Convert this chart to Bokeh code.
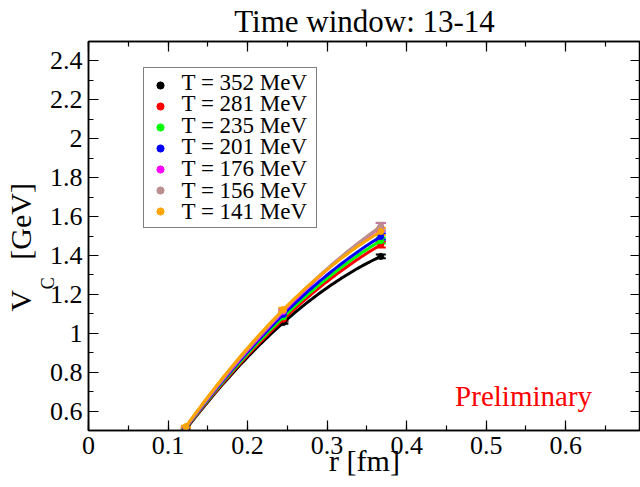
import numpy as np
from bokeh.plotting import figure
from bokeh.models import (Range1d, LinearAxis, Legend, LegendItem, Label, Whisker, FixedTicker,
                          ColumnDataSource, SingleIntervalTicker, CustomJSTickFormatter, TeeHead)
from bokeh.embed import file_html
from bokeh.resources import INLINE

# ---- data ----
r_fm = [0.1225, 0.245, 0.3675]
temps = ["352", "281", "235", "201", "176", "156", "141"]
colors = ["#000000", "#ff0000", "#00ff00", "#0000ff", "#ff00ff", "#bc8f8f", "#ffa500"]
v_352 = [0.506, 1.055, 1.395]
v_281 = [0.510, 1.072, 1.455]
v_235 = [0.512, 1.084, 1.476]
v_201 = [0.514, 1.097, 1.497]
v_176 = [0.517, 1.112, 1.547]
v_156 = [0.518, 1.117, 1.549]
v_141 = [0.520, 1.122, 1.523]
e_352 = [0.003, 0.006, 0.010]
e_281 = [0.003, 0.007, 0.014]
e_235 = [0.003, 0.007, 0.015]
e_201 = [0.003, 0.008, 0.016]
e_176 = [0.004, 0.009, 0.020]
e_156 = [0.004, 0.009, 0.019]
e_141 = [0.004, 0.009, 0.018]
values = [v_352, v_281, v_235, v_201, v_176, v_156, v_141]
errors = [e_352, e_281, e_235, e_201, e_176, e_156, e_141]

x_ticks_interval = 0.1
y_ticks_interval = 0.2

FONT = "Liberation Serif"
W, H = 640, 487
NB = "\u00a0"

p = figure(width=W, height=H, x_range=Range1d(0, 0.694), y_range=Range1d(0.5, 2.5),
           output_backend="svg", toolbar_location=None,
           min_border_left=88, min_border_right=0, min_border_top=41, min_border_bottom=57)
p.grid.visible = False
p.outline_line_color = "black"
p.outline_line_width = 1.5
p.background_fill_color = "white"
p.border_fill_color = "white"

fmt = CustomJSTickFormatter(code="return Number(tick.toFixed(3)).toString();")
blank = CustomJSTickFormatter(code="return '';")

def style_axis(ax, labels=True):
    ax.axis_line_color = "black"
    ax.axis_line_width = 1.5
    ax.major_tick_in = 10
    ax.major_tick_out = 0
    ax.minor_tick_in = 5
    ax.minor_tick_out = 0
    ax.major_tick_line_color = "black"
    ax.minor_tick_line_color = "black"
    ax.major_tick_line_width = 1.2
    ax.minor_tick_line_width = 1.2
    if labels:
        ax.formatter = fmt
        ax.major_label_text_font = FONT
        ax.major_label_text_font_size = "26px"
        ax.major_label_text_color = "black"
        ax.major_label_standoff = 6
    else:
        ax.formatter = blank
        ax.major_label_standoff = 0
        ax.major_label_text_font_size = "1px"

def label_axis(ax, text, size, standoff):
    ax.ticker = FixedTicker(ticks=[])
    ax.axis_line_color = None
    ax.major_tick_line_color = None
    ax.minor_tick_line_color = None
    ax.major_label_text_font_size = "1px"
    ax.major_label_standoff = 0
    ax.axis_label = text
    ax.axis_label_text_font = FONT
    ax.axis_label_text_font_size = size
    ax.axis_label_text_font_style = "normal"
    ax.axis_label_text_color = "black"
    ax.axis_label_standoff = standoff

p.xaxis.ticker = SingleIntervalTicker(interval=x_ticks_interval, num_minor_ticks=2)
p.yaxis.ticker = SingleIntervalTicker(interval=y_ticks_interval, num_minor_ticks=2)
style_axis(p.xaxis[0])
style_axis(p.yaxis[0])
p.xaxis.axis_label = "r [fm]"
p.xaxis.axis_label_text_font = FONT
p.xaxis.axis_label_text_font_size = "30px"
p.xaxis.axis_label_text_font_style = "normal"
p.xaxis.axis_label_text_color = "black"
p.xaxis.axis_label_standoff = -13

top = LinearAxis(ticker=SingleIntervalTicker(interval=x_ticks_interval, num_minor_ticks=2))
right = LinearAxis(ticker=SingleIntervalTicker(interval=y_ticks_interval, num_minor_ticks=2))
style_axis(top, labels=False)
style_axis(right, labels=False)
p.add_layout(top, "above")
p.add_layout(right, "right")

# y-axis title: "V" with subscript "C", then "[GeV]"
ax_c = LinearAxis()
label_axis(ax_c, "C" + NB * 21, "18px", -11)
p.add_layout(ax_c, "left")
ax_v = LinearAxis()
label_axis(ax_v, "V" + NB * 4 + "[GeV]" + NB * 3, "30px", -2)
p.add_layout(ax_v, "left")

p.title.text = "Time window: 13-14"
p.title.align = "center"
p.title.vertical_align = "top"
p.title.text_font = FONT
p.title.text_font_size = "31px"
p.title.text_font_style = "normal"
p.title.text_color = "black"
p.title.standoff = 2
p.title.offset = 0

items = []
for T, c, v, e in zip(temps, colors, values, errors):
    coef = np.polyfit(r_fm, v, 2)
    xs = np.linspace(r_fm[0], r_fm[-1], 80)
    p.line(xs, np.polyval(coef, xs), line_color=c, line_width=3)
    src = ColumnDataSource(dict(x=r_fm, y=v,
                                lo=[a - b for a, b in zip(v, e)],
                                hi=[a + b for a, b in zip(v, e)]))
    w = Whisker(source=src, base="x", lower="lo", upper="hi", line_color=c, line_width=2,
                upper_head=TeeHead(size=10, line_color=c, line_width=2),
                lower_head=TeeHead(size=10, line_color=c, line_width=2))
    p.add_layout(w)
    sc = p.scatter("x", "y", source=src, size=6, color=c)
    items.append(LegendItem(label=NB, renderers=[sc]))

# legend: Bokeh legend draws the box and the dots, texts are set row by row
LEG_X, LEG_Y, PAD, ROW_FS = 55, 202, 6, 18
row_h = ROW_FS * 1.2
legend = Legend(items=items, location=(LEG_X, LEG_Y), border_line_color="black",
                border_line_width=1, background_fill_color=None, background_fill_alpha=0,
                label_text_font=FONT, label_text_font_size=f"{ROW_FS}px", padding=PAD, spacing=0,
                glyph_width=20, glyph_height=18, label_height=18, label_standoff=12, margin=0,
                label_width=128)
p.add_layout(legend, "center")
n = len(temps)
for i, T in enumerate(temps):
    yc = LEG_Y + PAD + (n - i - 0.5) * row_h
    p.add_layout(Label(x=LEG_X + PAD + 20 + 12, y=yc, x_units="screen", y_units="screen",
                       text=f"T = {T} MeV", text_font=FONT, text_font_size="23px",
                       text_color="black", text_align="left", text_baseline="middle"))

p.add_layout(Label(x=0.547, y=0.675, text="Preliminary", text_color="#ff0000",
                   text_font=FONT, text_font_size="29px", text_align="center",
                   text_baseline="alphabetic"))

open("out.html", "w").write(file_html(p, INLINE))
